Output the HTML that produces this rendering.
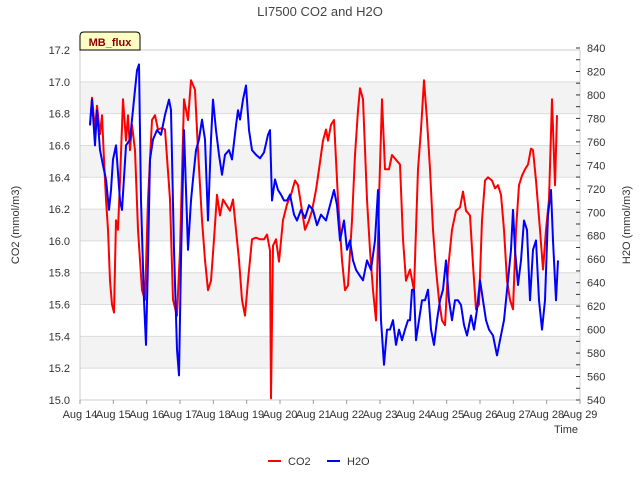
<!DOCTYPE html>
<html><head><meta charset="utf-8"><style>
body{margin:0;background:#fff;}
svg{font-family:"Liberation Sans","DejaVu Sans",sans-serif;}
</style></head><body>
<svg id="chart" width="640" height="480" viewBox="0 0 640 480" xmlns="http://www.w3.org/2000/svg">
<rect x="0" y="0" width="640" height="480" fill="#fff"/>
<text x="320" y="16" text-anchor="middle" font-size="13" fill="#444">LI7500 CO2 and H2O</text>
<g id="bands"></g>
<g id="grid"></g>
<rect x="80" y="50" width="500" height="350" fill="none" stroke="#ccc"/>
<g id="axes" font-size="11" fill="#333"></g>
<text transform="translate(19,225) rotate(-90)" text-anchor="middle" font-size="11" fill="#333">CO2 (mmol/m3)</text>
<text transform="translate(630,225) rotate(-90)" text-anchor="middle" font-size="11" fill="#333">H2O (mmol/m3)</text>
<text x="578" y="433" text-anchor="end" font-size="11" fill="#333">Time</text>
<g id="series"></g>
<g>
<path d="M80,50 L80,36 Q80,32 84,32 L136,32 Q140,32 140,36 L140,50 Z" fill="#ffffc4" stroke="#000"/>
<text x="110" y="46" text-anchor="middle" font-size="11" font-weight="bold" fill="#8b0000">MB_flux</text>
</g>
<g font-size="11" fill="#333">
<g><line x1="268" y1="461" x2="281" y2="461" stroke="#f00" stroke-width="2"/><text x="288" y="465">CO2</text></g>
<g><line x1="327" y1="461" x2="340" y2="461" stroke="#00f" stroke-width="2"/><text x="347" y="465">H2O</text></g>
</g>
</svg>
<script>
const xTickLabels=["Aug 14","Aug 15","Aug 16","Aug 17","Aug 18","Aug 19","Aug 20","Aug 21","Aug 22","Aug 23","Aug 24","Aug 25","Aug 26","Aug 27","Aug 28","Aug 29"];
const leftTicks=[15.0,15.2,15.4,15.6,15.8,16.0,16.2,16.4,16.6,16.8,17.0,17.2];
const rightTicks=[540,560,580,600,620,640,660,680,700,720,740,760,780,800,820,840];
const co2Days=[0.30,0.36,0.45,0.51,0.60,0.66,0.72,0.78,0.84,0.90,0.96,1.02,1.08,1.14,1.20,1.29,1.38,1.44,1.50,1.56,1.65,1.74,1.86,1.95,2.04,2.16,2.25,2.34,2.46,2.55,2.70,2.79,2.91,3.00,3.12,3.24,3.33,3.45,3.54,3.66,3.75,3.84,3.93,4.02,4.11,4.20,4.29,4.38,4.50,4.59,4.68,4.77,4.86,4.95,5.04,5.16,5.28,5.40,5.52,5.61,5.70,5.73,5.79,5.88,5.97,6.09,6.21,6.33,6.45,6.54,6.66,6.75,6.87,6.96,7.08,7.17,7.29,7.38,7.44,7.53,7.62,7.74,7.86,7.95,8.04,8.16,8.25,8.34,8.40,8.49,8.61,8.70,8.79,8.88,8.97,9.06,9.15,9.27,9.36,9.48,9.60,9.69,9.78,9.90,10.02,10.14,10.23,10.32,10.41,10.50,10.59,10.68,10.77,10.86,10.95,11.04,11.16,11.28,11.40,11.49,11.58,11.70,11.79,11.88,11.97,12.06,12.15,12.24,12.36,12.45,12.54,12.63,12.72,12.81,12.90,12.99,13.08,13.17,13.26,13.35,13.44,13.53,13.59,13.68,13.80,13.89,13.98,14.07,14.16,14.25,14.31];
const co2Values=[16.73,16.90,16.70,16.85,16.67,16.79,16.51,16.26,16.07,15.75,15.60,15.55,16.13,16.07,16.38,16.89,16.63,16.79,16.57,16.73,16.57,16.07,15.69,15.63,16.26,16.76,16.79,16.70,16.71,16.70,16.26,15.63,15.53,15.94,16.89,16.76,17.01,16.95,16.57,16.13,15.88,15.69,15.75,16.01,16.29,16.16,16.26,16.23,16.19,16.26,16.07,15.88,15.63,15.53,15.75,16.01,16.02,16.01,16.01,16.04,15.94,15.01,15.97,16.01,15.87,16.13,16.23,16.29,16.38,16.35,16.19,16.07,16.13,16.19,16.32,16.45,16.63,16.70,16.63,16.73,16.76,16.26,15.88,15.69,15.72,16.13,16.54,16.82,16.96,16.89,16.26,15.94,15.69,15.50,16.26,16.89,16.45,16.45,16.54,16.51,16.48,16.01,15.75,15.82,15.69,16.45,16.70,17.01,16.76,16.45,16.07,15.82,15.63,15.50,15.47,15.82,16.07,16.19,16.21,16.31,16.19,16.16,15.85,15.57,15.60,16.13,16.38,16.40,16.38,16.33,16.35,16.29,16.07,15.75,15.63,15.57,16.07,16.35,16.41,16.45,16.48,16.58,16.57,16.38,16.07,15.82,16.07,16.26,16.89,16.35,16.79];
const h2oDays=[0.30,0.36,0.45,0.51,0.60,0.69,0.78,0.87,0.93,0.99,1.08,1.20,1.26,1.38,1.50,1.62,1.71,1.77,1.83,1.92,1.98,2.04,2.10,2.19,2.31,2.43,2.55,2.67,2.73,2.82,2.91,2.97,3.03,3.12,3.18,3.24,3.33,3.39,3.48,3.57,3.66,3.75,3.84,3.93,3.99,4.08,4.17,4.26,4.35,4.47,4.56,4.68,4.74,4.80,4.89,4.98,5.07,5.16,5.28,5.40,5.52,5.64,5.70,5.76,5.85,5.94,6.03,6.12,6.21,6.30,6.42,6.51,6.63,6.75,6.87,6.99,7.11,7.23,7.38,7.50,7.62,7.71,7.80,7.92,8.01,8.10,8.19,8.28,8.37,8.49,8.61,8.73,8.85,8.94,9.03,9.12,9.21,9.30,9.39,9.48,9.57,9.66,9.75,9.84,9.90,9.96,10.02,10.08,10.17,10.26,10.35,10.44,10.53,10.62,10.71,10.80,10.89,10.98,11.07,11.16,11.25,11.34,11.43,11.52,11.61,11.73,11.82,11.91,12.00,12.09,12.18,12.27,12.39,12.51,12.60,12.72,12.84,12.93,12.99,13.05,13.14,13.23,13.32,13.41,13.50,13.59,13.68,13.77,13.86,13.95,14.04,14.13,14.19,14.28,14.34];
const h2oValues=[774,796,757,787,753,740,728,702,719,745,757,710,702,757,762,796,821,826,710,625,587,659,745,762,770,766,783,796,787,668,583,561,659,770,719,668,710,728,753,762,779,762,693,762,796,770,749,732,749,753,745,774,787,779,796,808,770,753,749,746,751,766,770,710,728,719,715,710,710,715,698,693,702,695,706,702,689,698,693,706,719,706,676,693,668,676,659,651,647,642,659,651,676,719,608,570,600,600,608,587,600,591,600,608,608,634,634,591,608,625,625,634,600,587,608,625,634,659,625,608,625,625,621,604,595,612,600,617,642,625,608,600,595,578,591,608,642,668,702,668,638,659,693,685,625,668,676,625,600,625,698,719,676,625,659];

const X0=80,X1=580,Y0=400,Y1=50;
function xScale(d){return X0+(d/15)*(X1-X0);}
function yLeft(v){return Y0-(v-15.0)/(17.2-15.0)*(Y0-Y1);}
function yRight(v){return Y0-(v-540)/(840-540)*(Y0-48);}
const NS="http://www.w3.org/2000/svg";
function mk(tag,attrs,parent){const e=document.createElementNS(NS,tag);for(const k in attrs)e.setAttribute(k,attrs[k]);parent.appendChild(e);return e;}
const bands=document.getElementById('bands'),grid=document.getElementById('grid'),axes=document.getElementById('axes'),series=document.getElementById('series');
for(let i=0;i<leftTicks.length-1;i++){
  if(i%2===1){
    const r=mk('rect',{x:X0,y:yLeft(leftTicks[i+1]),width:X1-X0,height:yLeft(leftTicks[i])-yLeft(leftTicks[i+1]),fill:'#f3f3f3'},bands);
    
    
  }
}
leftTicks.forEach(v=>{
  const y=yLeft(v);
  const l=mk('line',{x1:X0,x2:X1,y1:y,y2:y,stroke:'#dcdcdc'},grid);
  
  
  const t=mk('text',{x:X0-10,y:y+4,'text-anchor':'end'},axes);
  t.textContent=v.toFixed(1);
  
  
});
rightTicks.forEach((v,i)=>{
  const y=yRight(v);
  mk('line',{x1:X1,x2:X1-4,y1:y,y2:y,stroke:'#333'},axes);
  if(i<rightTicks.length-1){const ym=yRight(v+10);mk('line',{x1:X1,x2:X1-4,y1:ym,y2:ym,stroke:'#333'},axes);}
  const t=mk('text',{x:X1+7,y:y+4,'text-anchor':'start'},axes);
  t.textContent=v;
  
  
});
xTickLabels.forEach((s,i)=>{
  const x=xScale(i);
  mk('line',{x1:x,x2:x,y1:Y0,y2:Y0+4,stroke:'#999'},axes);
  const t=mk('text',{x:x,y:Y0+18,'text-anchor':'middle'},axes);
  t.textContent=s;
  
  
});
function line(days,vals,ys,color,name){
  const d=days.map((dd,i)=>(i?'L':'M')+xScale(dd).toFixed(1)+','+ys(vals[i]).toFixed(1)).join('');
  const p=mk('path',{d:d,fill:'none',stroke:color,'stroke-width':2,'stroke-linejoin':'round'},series);
  
  
}
line(co2Days,co2Values,yLeft,'#f00','co2-line');
line(h2oDays,h2oValues,yRight,'#00f','h2o-line');
</script>
</body></html>
